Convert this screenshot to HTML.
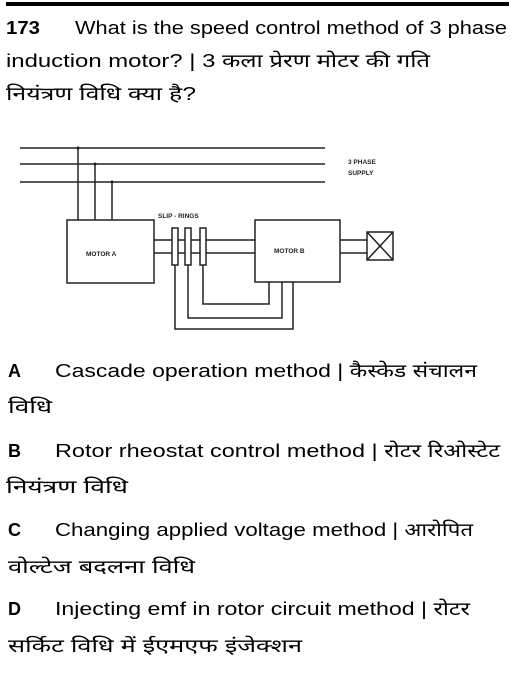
<!DOCTYPE html>
<html><head><meta charset="utf-8"><style>
html,body{margin:0;padding:0;background:#fff;width:522px;height:676px;overflow:hidden}
svg{display:block}
.t{font-family:"Liberation Sans","Noto Sans Devanagari","Lohit Devanagari",sans-serif;font-size:18px;fill:#000}
.b{font-weight:bold}
.s{font-family:"Liberation Sans",sans-serif;font-size:6.5px;font-weight:bold;fill:#222}
</style></head><body>
<svg width="522" height="676" viewBox="0 0 522 676">
<rect x="6" y="2" width="503" height="4" fill="#000"/>
<text class="t b" x="6" y="34" textLength="34" lengthAdjust="spacingAndGlyphs">173</text>
<text class="t" x="75" y="34" textLength="432" lengthAdjust="spacingAndGlyphs">What is the speed control method of 3 phase</text>
<text class="t" x="6" y="67" textLength="424" lengthAdjust="spacingAndGlyphs">induction motor? | 3 कला प्रेरण मोटर की गति</text>
<text class="t" x="6" y="100" textLength="190" lengthAdjust="spacingAndGlyphs">नियंत्रण विधि क्या है?</text>

<g stroke="#222" stroke-width="1.5" fill="none">
<line x1="20" y1="148" x2="325" y2="148"/>
<line x1="20" y1="164" x2="325" y2="164"/>
<line x1="20" y1="182" x2="325" y2="182"/>
<line x1="78" y1="148" x2="78" y2="220"/>
<line x1="95" y1="164" x2="95" y2="220"/>
<line x1="112" y1="182" x2="112" y2="220"/>
<rect x="67" y="220" width="87" height="63"/>
<rect x="255" y="220" width="85" height="62"/>
<line x1="154" y1="240" x2="255" y2="240"/>
<line x1="154" y1="253" x2="255" y2="253"/>
<line x1="340" y1="240" x2="367" y2="240"/>
<line x1="340" y1="253" x2="367" y2="253"/>
<rect x="367" y="232" width="26" height="28"/>
<line x1="367" y1="232" x2="393" y2="260"/>
<line x1="393" y1="232" x2="367" y2="260"/>
<rect x="172" y="228" width="6" height="37" fill="#fff"/>
<rect x="185" y="228" width="6" height="37" fill="#fff"/>
<rect x="200" y="228" width="6" height="37" fill="#fff"/>
<polyline points="175,265 175,329 293,329 293,282"/>
<polyline points="188,265 188,318 282,318 282,282"/>
<polyline points="203,265 203,304 269,304 269,282"/>
</g>
<circle cx="78" cy="148" r="1.5" fill="#222"/>
<circle cx="95" cy="164" r="1.5" fill="#222"/>
<circle cx="112" cy="182" r="1.5" fill="#222"/>
<text class="s" x="348" y="164">3 PHASE</text>
<text class="s" x="348" y="175">SUPPLY</text>
<text class="s" x="158" y="218">SLIP - RINGS</text>
<text class="s" x="86" y="256">MOTOR A</text>
<text class="s" x="274" y="253">MOTOR B</text>

<text class="t b" x="8" y="377">A</text>
<text class="t" x="55" y="377" textLength="422" lengthAdjust="spacingAndGlyphs">Cascade operation method | कैस्केड संचालन</text>
<text class="t" x="8" y="413" textLength="44" lengthAdjust="spacingAndGlyphs">विधि</text>
<text class="t b" x="8" y="457">B</text>
<text class="t" x="55" y="457" textLength="445" lengthAdjust="spacingAndGlyphs">Rotor rheostat control method | रोटर रिओस्टेट</text>
<text class="t" x="6" y="493" textLength="122" lengthAdjust="spacingAndGlyphs">नियंत्रण विधि</text>
<text class="t b" x="8" y="536">C</text>
<text class="t" x="55" y="536" textLength="418" lengthAdjust="spacingAndGlyphs">Changing applied voltage method | आरोपित</text>
<text class="t" x="8" y="573" textLength="187" lengthAdjust="spacingAndGlyphs">वोल्टेज बदलना विधि</text>
<text class="t b" x="8" y="615">D</text>
<text class="t" x="55" y="615" textLength="415" lengthAdjust="spacingAndGlyphs">Injecting emf in rotor circuit method | रोटर</text>
<text class="t" x="8" y="652" textLength="294" lengthAdjust="spacingAndGlyphs">सर्किट विधि में ईएमएफ इंजेक्शन</text>
</svg>
</body></html>
